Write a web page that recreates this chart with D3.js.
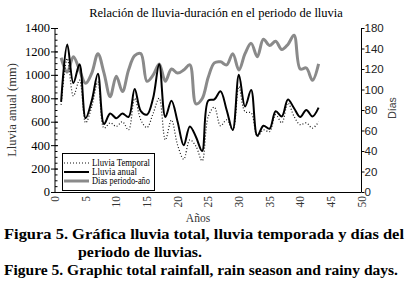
<!DOCTYPE html>
<html lang="es">
<head>
<meta charset="UTF-8">
<title>Relación de lluvia-duración</title>
<script src="https://cdn.jsdelivr.net/npm/d3@7"></script>
<style>
    body { margin: 0; background: #fff; }
</style>
</head>
<body>
<script>

    // años 1..43
    var years = d3.range(1, 44);

    // Lluvia anual (mm)
    var lluviaAnual = [770, 1260, 930, 1090, 630, 780, 1010, 580, 670, 630,
        670, 640, 880, 690, 660, 800, 1090, 640, 780, 600,
        400, 560, 470, 350, 780, 790, 860, 700, 530, 1000,
        730, 870, 480, 565, 540, 690, 645, 790, 715, 640,
        700, 645, 720];

    // Lluvia temporal (mm)
    var lluviaTemporal = [745, 1140, 820, 955, 590, 730, 940, 545, 590, 560,
        600, 530, 800, 615, 550, 670, 800, 445, 615, 400,
        280, 445, 390, 265, 645, 725, 565, 615, 530, 900,
        685, 675, 475, 530, 515, 660, 590, 760, 645, 575,
        590, 545, 600];

    // Dias periodo-año
    var diasPeriodo = [131, 117, 132, 119, 106, 116, 135, 116, 93, 113,
        98, 119, 133, 135, 108, 114, 125, 108, 120, 116,
        119, 124, 86, 91, 112, 126, 127, 124, 135, 119,
        135, 145, 132, 149, 143, 147, 139, 144, 153, 120,
        121, 109, 125];

    var xTicks = d3.range(0, 51, 5);
    var leftTicks = d3.range(0, 1401, 200);
    var rightTicks = d3.range(0, 161, 20);
    var rightTickLabels = ["0", "20", "40", "60", "80", "100", "120", "140", "180"];

    var seriesNames = ["Lluvia Temporal", "Lluvia anual", "Dias periodo-año"];

    var serif = "'Liberation Serif', 'Times New Roman', serif";
    var sans = "'Liberation Sans', Arial, sans-serif";

    var width = 407, height = 287;
    var svg = d3.select("body").append("svg")
        .attr("width", width)
        .attr("height", height)
        .style("font-family", serif);

    // escalas
    var x = d3.scaleLinear().domain([0, 50]).range([55, 361.5]);
    var yL = d3.scaleLinear().domain([0, 1400]).range([192, 28]);
    var yR = d3.scaleLinear().domain([0, 160]).range([192, 28]);

    // titulo
    svg.append("text")
        .attr("x", 216).attr("y", 17)
        .attr("text-anchor", "middle")
        .attr("font-family", serif)
        .attr("font-size", 12.5)
        .text("Relación de lluvia-duración en el periodo de lluvia");

    // lineas
    var lineL = d3.line()
        .x(function (d, i) { return x(years[i]); })
        .y(function (d) { return yL(d); })
        .curve(d3.curveCatmullRom.alpha(0.5));
    var lineR = d3.line()
        .x(function (d, i) { return x(years[i]); })
        .y(function (d) { return yR(d); })
        .curve(d3.curveCatmullRom.alpha(0.5));

    svg.append("path")
        .attr("d", lineR(diasPeriodo))
        .attr("fill", "none")
        .attr("stroke", "#8a8a8a")
        .attr("stroke-width", 3);

    svg.append("path")
        .attr("d", lineL(lluviaTemporal))
        .attr("fill", "none")
        .attr("stroke", "#111")
        .attr("stroke-width", 1.2)
        .attr("stroke-dasharray", "1,2");

    svg.append("path")
        .attr("d", lineL(lluviaAnual))
        .attr("fill", "none")
        .attr("stroke", "#000")
        .attr("stroke-width", 2);

    // eje izquierdo
    var gL = svg.append("g").attr("transform", "translate(55,0)");
    gL.append("line").attr("x1", 0).attr("x2", 0)
        .attr("y1", yL(1400)).attr("y2", yL(0))
        .attr("stroke", "#000");
    gL.selectAll("line.minor")
        .data(d3.range(0, 1401, 50))
        .enter().append("line")
        .attr("class", "minor")
        .attr("x1", 0).attr("x2", 2.5)
        .attr("y1", function (d) { return yL(d) + 0.5; })
        .attr("y2", function (d) { return yL(d) + 0.5; })
        .attr("stroke", "#000");
    gL.selectAll("line.major")
        .data(leftTicks)
        .enter().append("line")
        .attr("class", "major")
        .attr("x1", -4).attr("x2", 3)
        .attr("y1", function (d) { return yL(d) + 0.5; })
        .attr("y2", function (d) { return yL(d) + 0.5; })
        .attr("stroke", "#000");
    gL.selectAll("text.tick")
        .data(leftTicks)
        .enter().append("text")
        .attr("class", "tick")
        .attr("x", -5)
        .attr("y", function (d) { return yL(d); })
        .attr("dy", "0.35em")
        .attr("text-anchor", "end")
        .attr("font-family", serif)
        .attr("font-size", 12.5)
        .text(function (d) { return d; });

    // eje derecho
    var gR = svg.append("g").attr("transform", "translate(361.5,0)");
    gR.append("line").attr("x1", 0).attr("x2", 0)
        .attr("y1", yR(160)).attr("y2", yR(0))
        .attr("stroke", "#000");
    gR.selectAll("line.major")
        .data(rightTicks)
        .enter().append("line")
        .attr("class", "major")
        .attr("x1", 0).attr("x2", 3)
        .attr("y1", function (d) { return yR(d) + 0.5; })
        .attr("y2", function (d) { return yR(d) + 0.5; })
        .attr("stroke", "#000");
    gR.selectAll("text.tick")
        .data(rightTicks)
        .enter().append("text")
        .attr("class", "tick")
        .attr("x", 3)
        .attr("y", function (d) { return yR(d); })
        .attr("dy", "0.35em")
        .attr("font-family", sans)
        .attr("font-size", 11.5)
        .attr("fill", "#222")
        .text(function (d, i) { return rightTickLabels[i]; });

    // eje x
    svg.append("line")
        .attr("x1", x(0)).attr("x2", x(50))
        .attr("y1", 192.5).attr("y2", 192.5)
        .attr("stroke", "#000");
    svg.selectAll("text.xtick")
        .data(xTicks)
        .enter().append("text")
        .attr("class", "xtick")
        .attr("transform", function (d) { return "translate(" + x(d) + ",196) rotate(-90)"; })
        .attr("dy", "0.35em")
        .attr("text-anchor", "end")
        .attr("font-family", serif)
        .attr("font-size", 11.5)
        .attr("fill", "#333")
        .text(function (d) { return d; });

    // etiquetas de ejes
    svg.append("text")
        .attr("transform", "translate(16,110) rotate(-90)")
        .attr("text-anchor", "middle")
        .attr("font-family", serif)
        .attr("font-size", 12.5)
        .attr("fill", "#333")
        .text("Lluvia anual (mm)");
    svg.append("text")
        .attr("transform", "translate(396,108) rotate(-90)")
        .attr("text-anchor", "middle")
        .attr("font-family", sans)
        .attr("font-size", 10.5)
        .attr("fill", "#444")
        .text("Días");
    svg.append("text")
        .attr("x", 198).attr("y", 222)
        .attr("text-anchor", "middle")
        .attr("font-family", serif)
        .attr("font-size", 11.5)
        .attr("fill", "#333")
        .text("Años");

    // leyenda
    var legend = svg.append("g").attr("transform", "translate(62,153)");
    legend.append("rect")
        .attr("x", 0.5).attr("y", 0.5)
        .attr("width", 92).attr("height", 37)
        .attr("fill", "#fff")
        .attr("stroke", "#000");
    var legStyles = [
        {stroke: "#111", w: 1.2, dash: "1,2", len: 58},
        {stroke: "#000", w: 2, dash: null, len: 45},
        {stroke: "#8a8a8a", w: 3, dash: null, len: 58}
    ];
    seriesNames.forEach(function (name, i) {
        var yy = 10 + i * 9;
        legend.append("line")
            .attr("x1", 2).attr("x2", 27)
            .attr("y1", yy).attr("y2", yy)
            .attr("stroke", legStyles[i].stroke)
            .attr("stroke-width", legStyles[i].w)
            .attr("stroke-dasharray", legStyles[i].dash);
        legend.append("text")
            .attr("x", 30).attr("y", yy)
            .attr("dy", "0.33em")
            .attr("textLength", legStyles[i].len)
            .attr("lengthAdjust", "spacingAndGlyphs")
            .attr("font-family", serif)
            .attr("font-size", 9.5)
            .text(name);
    });

    // pie de figura
    var caption = [
        {t: "Figura 5. Gráfica lluvia total, lluvia temporada y días del", x: 4, y: 239, len: 400},
        {t: "periodo de lluvias.", x: 78, y: 257, len: 124},
        {t: "Figure 5. Graphic total rainfall, rain season and rainy days.", x: 4, y: 275, len: 394}
    ];
    svg.selectAll("text.cap")
        .data(caption)
        .enter().append("text")
        .attr("class", "cap")
        .attr("x", function (d) { return d.x; })
        .attr("y", function (d) { return d.y; })
        .attr("textLength", function (d) { return d.len; })
        .attr("lengthAdjust", "spacingAndGlyphs")
        .attr("font-family", serif)
        .attr("font-size", 15.5)
        .attr("font-weight", "bold")
        .text(function (d) { return d.t; });

</script>
</body>
</html>
